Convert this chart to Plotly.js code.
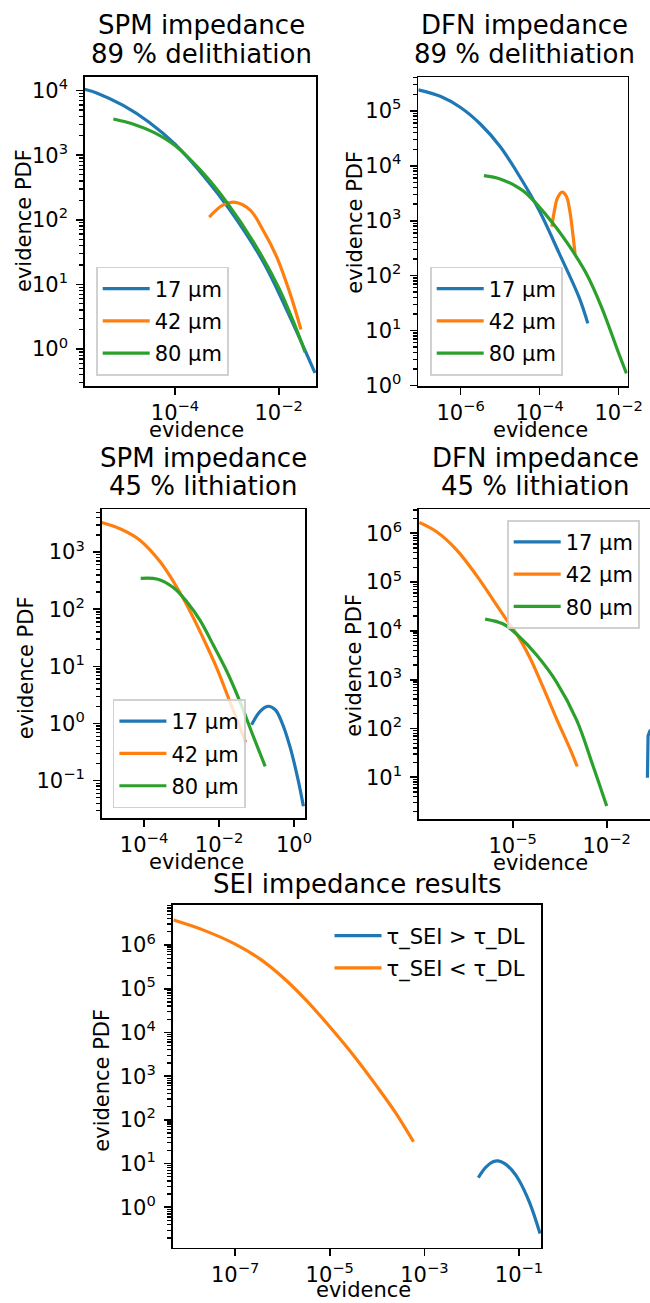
<!DOCTYPE html>
<html>
<head>
<meta charset="utf-8">
<script src="https://cdn.plot.ly/plotly-3.0.1.min.js"></script>
<style>html,body{margin:0;padding:0;background:#fff;}#chart{width:650px;height:1303px;}</style>
</head>
<body>
<div id="chart"></div>
<script>
// ---------- data ----------
const seriesNames = ['17 µm', '42 µm', '80 µm'];
const seiNames = ['τ_SEI > τ_DL', 'τ_SEI < τ_DL'];
const titles = [
  ['SPM impedance', '89 % delithiation'],
  ['DFN impedance', '89 % delithiation'],
  ['SPM impedance', '45 % lithiation'],
  ['DFN impedance', '45 % lithiation'],
  ['SEI impedance results']
];
const xLabel = 'evidence';
const yLabel = 'evidence PDF';

// Panel 1: SPM impedance, 89 % delithiation
const spm89_17_x = [1.8e-6, 3.16e-6, 1e-5, 3.16e-5, 1e-4, 3.8e-4, 1.15e-3, 5.01e-3, 1.66e-2, 5.01e-2];
const spm89_17_y = [1.05e4, 9120, 5888, 3236, 1479, 447, 141, 22.4, 3.09, 0.427];
const spm89_42_x = [4.57e-4, 8.5e-4, 1.45e-3, 2.82e-3, 5.0e-3, 9.1e-3, 1.66e-2, 2.69e-2];
const spm89_42_y = [110, 170, 186, 141, 69, 26.9, 7.2, 2.0];
const spm89_80_x = [6.46e-6, 1.585e-5, 3.98e-5, 1e-4, 3.16e-4, 1e-3, 3.24e-3, 1e-2, 1.905e-2, 3.24e-2];
const spm89_80_y = [3631, 3020, 2239, 1413, 575, 186, 45.7, 8.91, 2.69, 0.891];

// Panel 2: DFN impedance, 89 % delithiation
const dfn89_17_x = [8.5e-8, 3.16e-7, 1e-6, 3.16e-6, 1e-5, 3.16e-5, 1e-4, 3.16e-4, 1e-3, 1.66e-3];
const dfn89_17_y = [2.4e5, 1.82e5, 1.15e5, 5.75e4, 2.24e4, 6.3e3, 1.48e3, 251, 40, 13.5];
const dfn89_42_x = [2.04e-4, 2.40e-4, 2.82e-4, 3.72e-4, 4.79e-4, 5.75e-4, 6.76e-4, 7.94e-4];
const dfn89_42_y = [776, 1585, 2570, 3311, 2754, 1585, 676, 240];
const dfn89_80_x = [3.9e-6, 1e-5, 3.1e-5, 4.57e-5, 2.19e-4, 5.75e-4, 1.51e-3, 3.63e-3, 1e-2, 1.58e-2];
const dfn89_80_y = [6.6e3, 5.75e3, 3.89e3, 3.16e3, 891, 339, 110, 27.5, 3.9, 1.66];

// Panel 3: SPM impedance, 45 % lithiation
const spm45_17_x = [0.074, 0.123, 0.2, 0.316, 0.468, 0.776, 1.29, 1.78];
const spm45_17_y = [0.95, 1.62, 2.0, 1.74, 1.07, 0.398, 0.102, 0.0355];
const spm45_42_x = [7.4e-6, 2.29e-5, 7.76e-5, 2.69e-4, 7.41e-4, 1.70e-3, 3.80e-3, 8.71e-3, 1.95e-2, 5.13e-2];
const spm45_42_y = [3311, 2570, 1622, 676, 245, 91.2, 30.9, 9.33, 2.40, 0.468];
const spm45_80_x = [8.13e-5, 2.19e-4, 6.03e-4, 1.38e-3, 3.09e-3, 7.08e-3, 1.62e-2, 3.63e-2, 8.13e-2, 0.17];
const spm45_80_y = [347, 339, 240, 135, 64.6, 23.4, 8.13, 2.40, 0.603, 0.178];

// Panel 4: DFN impedance, 45 % lithiation
const dfn45_17_x = [0.1995, 0.2018, 0.209, 0.24, 0.316];
const dfn45_17_y = [9.77, 39.8, 70.8, 89.1, 100];
const dfn45_42_x = [1.05e-8, 3.72e-8, 1.62e-7, 7.08e-7, 2.4e-6, 6.46e-6, 1.51e-5, 3.55e-5, 9.55e-5, 2.51e-4, 6.76e-4, 1.15e-3];
const dfn45_42_y = [1.66e6, 1.07e6, 4.57e5, 1.35e5, 4.27e4, 1.66e4, 7.59e3, 2.82e3, 676, 158, 38, 16.6];
const dfn45_80_x = [1.32e-6, 5.01e-6, 1.51e-5, 5.89e-5, 2.51e-4, 1.10e-3, 3.72e-3, 1e-2];
const dfn45_80_y = [1.74e4, 1.38e4, 7.94e3, 3.16e3, 891, 148, 16.6, 2.57];

// Panel 5: SEI impedance results
const sei_gt_x = [0.0138, 0.02, 0.0282, 0.0363, 0.05, 0.0708, 0.1, 0.17, 0.278];
const sei_gt_y = [4.79, 8.32, 11.0, 11.5, 10.0, 7.08, 4.17, 1.23, 0.251];
const sei_lt_x = [5.0e-9, 2.14e-8, 1e-7, 3.16e-7, 1e-6, 3.16e-6, 1e-5, 3.16e-5, 1e-4, 2.51e-4, 5.89e-4];
const sei_lt_y = [3.72e6, 2.19e6, 1.05e6, 5.01e5, 1.86e5, 5.5e4, 1.35e4, 3.02e3, 575, 141, 31.6];

// tick decades per axis
const xTickExp = [[-4, -2], [-6, -4, -2], [-4, -2, 0], [-5, -2], [-7, -5, -3, -1]];
const yTickExp = [[0, 1, 2, 3, 4], [0, 1, 2, 3, 4, 5], [-1, 0, 1, 2, 3], [1, 2, 3, 4, 5, 6], [0, 1, 2, 3, 4, 5, 6]];

// ---------- layout helpers ----------
const W = 650, H = 1303;
const px = v => v / W;
const py = v => 1 - v / H;
const colors = ['#1f77b4', '#ff7f0e', '#2ca02c'];
const FONT = 'DejaVu Sans';

// axes boxes in pixels [left, right, top, bottom] and log ranges
const boxes = [
  [85, 316, 77, 386],
  [418.3, 627.7, 77.3, 386],
  [101.7, 305, 509.3, 818.3],
  [419, 650, 509.3, 819],
  [172.7, 541, 905, 1247.7]
];
const xRanges = [[-5.737, -1.28], [-7.07, -1.77], [-5.13, 0.293], [-7.99, -0.618], [-8.32, -0.535]];
const yRanges = [[-0.573, 4.21], [-0.01, 5.61], [-1.66, 3.75], [0.145, 6.49], [-0.924, 6.915]];

function supLabel(e) {
  const s = e < 0 ? '\u2212' + Math.abs(e) : String(e);
  return '10<sup>' + s + '</sup>';
}
function minorVals(lo, hi) {
  const out = [];
  for (let e = Math.floor(lo); e <= Math.ceil(hi); e++) {
    for (let k = 2; k <= 9; k++) out.push(k * Math.pow(10, e));
  }
  return out;
}

const layout = {
  width: W, height: H,
  margin: {l: 0, r: 0, t: 0, b: 0},
  paper_bgcolor: '#fff', plot_bgcolor: '#fff',
  font: {family: FONT, size: 21, color: 'black'},
  showlegend: true,
  annotations: []
};

for (let i = 0; i < 5; i++) {
  const sfx = i === 0 ? '' : String(i + 1);
  const b = boxes[i];
  const common = {
    type: 'log', showline: true, linecolor: 'black', linewidth: 1.7,
    ticks: 'outside', ticklen: 7, tickwidth: 1.7, tickcolor: 'black',
    showgrid: false, zeroline: false, tickmode: 'array',
    tickfont: {family: FONT, size: 21, color: 'black'},
    fixedrange: true
  };
  layout['xaxis' + sfx] = Object.assign({}, common, {
    domain: [px(b[0]), px(b[1])], anchor: 'y' + sfx, mirror: true,
    range: xRanges[i], ticklabelstandoff: 0,
    tickvals: xTickExp[i].map(e => Math.pow(10, e)),
    ticktext: xTickExp[i].map(supLabel)
  });
  layout['yaxis' + sfx] = Object.assign({}, common, {
    domain: [py(b[3]), py(b[2])], anchor: 'x' + sfx, mirror: i !== 3,
    range: yRanges[i], ticklabelstandoff: 4,
    tickvals: yTickExp[i].map(e => Math.pow(10, e)),
    ticktext: yTickExp[i].map(supLabel),
    minor: {tickmode: 'array', tickvals: minorVals(yRanges[i][0], yRanges[i][1]),
            ticks: 'outside', ticklen: 4, tickwidth: 1.3, tickcolor: 'black'}
  });
}

// legends
const legBase = {font: {family: FONT, size: 21, color: 'black'},
  bgcolor: 'rgba(255,255,255,0.8)', bordercolor: 'rgba(204,204,204,0.9)', borderwidth: 1.7,
  tracegroupgap: 2, itemwidth: 47};
layout.legend = Object.assign({}, legBase, {x: px(96), y: py(375.7), xanchor: 'left', yanchor: 'bottom'});
layout.legend2 = Object.assign({}, legBase, {x: px(430), y: py(375.7), xanchor: 'left', yanchor: 'bottom'});
layout.legend3 = Object.assign({}, legBase, {x: px(112.7), y: py(808.3), xanchor: 'left', yanchor: 'bottom'});
layout.legend4 = Object.assign({}, legBase, {x: px(640), y: py(520), xanchor: 'right', yanchor: 'top'});
layout.legend5 = Object.assign({}, legBase, {x: px(530.5), y: py(915.5), xanchor: 'right', yanchor: 'top',
  bgcolor: 'rgba(0,0,0,0)', borderwidth: 0});

// titles and axis labels
const titlePos = [
  [201.2, 25.5, 54.2], [524.2, 25.5, 54.2],
  [203, 458.3, 486.5], [535, 458.3, 486.5],
  [357, 884.2]
];
titles.forEach((lines, i) => {
  lines.forEach((t, j) => {
    layout.annotations.push({text: t, xref: 'paper', yref: 'paper',
      x: px(titlePos[i][0]), y: py(titlePos[i][1 + j]), xanchor: 'center', yanchor: 'middle',
      showarrow: false, font: {family: FONT, size: 26, color: 'black'}});
  });
});
const xLabPos = [[196.3, 430], [540, 430], [196.7, 862.3], [540, 863], [363.3, 1290]];
const yLabPos = [[23.3, 220.7], [355, 221.7], [25.8, 667.5], [354, 665.8], [101.7, 1080]];
for (let i = 0; i < 5; i++) {
  layout.annotations.push({text: xLabel, xref: 'paper', yref: 'paper',
    x: px(xLabPos[i][0]), y: py(xLabPos[i][1]), xanchor: 'center', yanchor: 'middle',
    showarrow: false, font: {family: FONT, size: 21, color: 'black'}});
  layout.annotations.push({text: yLabel, xref: 'paper', yref: 'paper', textangle: -90,
    x: px(yLabPos[i][0]), y: py(yLabPos[i][1]), xanchor: 'center', yanchor: 'middle',
    showarrow: false, font: {family: FONT, size: 21, color: 'black'}});
}

// ---------- traces ----------
let gid = 0;
function tr(x, y, name, color, panel, legendId, shape) {
  const sfx = panel === 0 ? '' : String(panel + 1);
  gid += 1;
  return {x: x, y: y, name: name, type: 'scatter', mode: 'lines',
    line: {color: color, width: 3.2, shape: shape || 'spline', smoothing: 1},
    xaxis: 'x' + sfx, yaxis: 'y' + sfx, legend: legendId, legendgroup: 'g' + gid,
    showlegend: true, hoverinfo: 'skip', cliponaxis: true};
}
const data = [
  tr(spm89_17_x, spm89_17_y, seriesNames[0], colors[0], 0, 'legend'),
  tr(spm89_42_x, spm89_42_y, seriesNames[1], colors[1], 0, 'legend'),
  tr(spm89_80_x, spm89_80_y, seriesNames[2], colors[2], 0, 'legend'),
  tr(dfn89_17_x, dfn89_17_y, seriesNames[0], colors[0], 1, 'legend2'),
  tr(dfn89_42_x, dfn89_42_y, seriesNames[1], colors[1], 1, 'legend2'),
  tr(dfn89_80_x, dfn89_80_y, seriesNames[2], colors[2], 1, 'legend2'),
  tr(spm45_17_x, spm45_17_y, seriesNames[0], colors[0], 2, 'legend3'),
  tr(spm45_42_x, spm45_42_y, seriesNames[1], colors[1], 2, 'legend3'),
  tr(spm45_80_x, spm45_80_y, seriesNames[2], colors[2], 2, 'legend3'),
  tr(dfn45_17_x, dfn45_17_y, seriesNames[0], colors[0], 3, 'legend4', 'linear'),
  tr(dfn45_42_x, dfn45_42_y, seriesNames[1], colors[1], 3, 'legend4'),
  tr(dfn45_80_x, dfn45_80_y, seriesNames[2], colors[2], 3, 'legend4'),
  tr(sei_gt_x, sei_gt_y, seiNames[0], colors[0], 4, 'legend5'),
  tr(sei_lt_x, sei_lt_y, seiNames[1], colors[1], 4, 'legend5')
];

Plotly.newPlot('chart', data, layout, {staticPlot: true, displayModeBar: false});
</script>
</body>
</html>
